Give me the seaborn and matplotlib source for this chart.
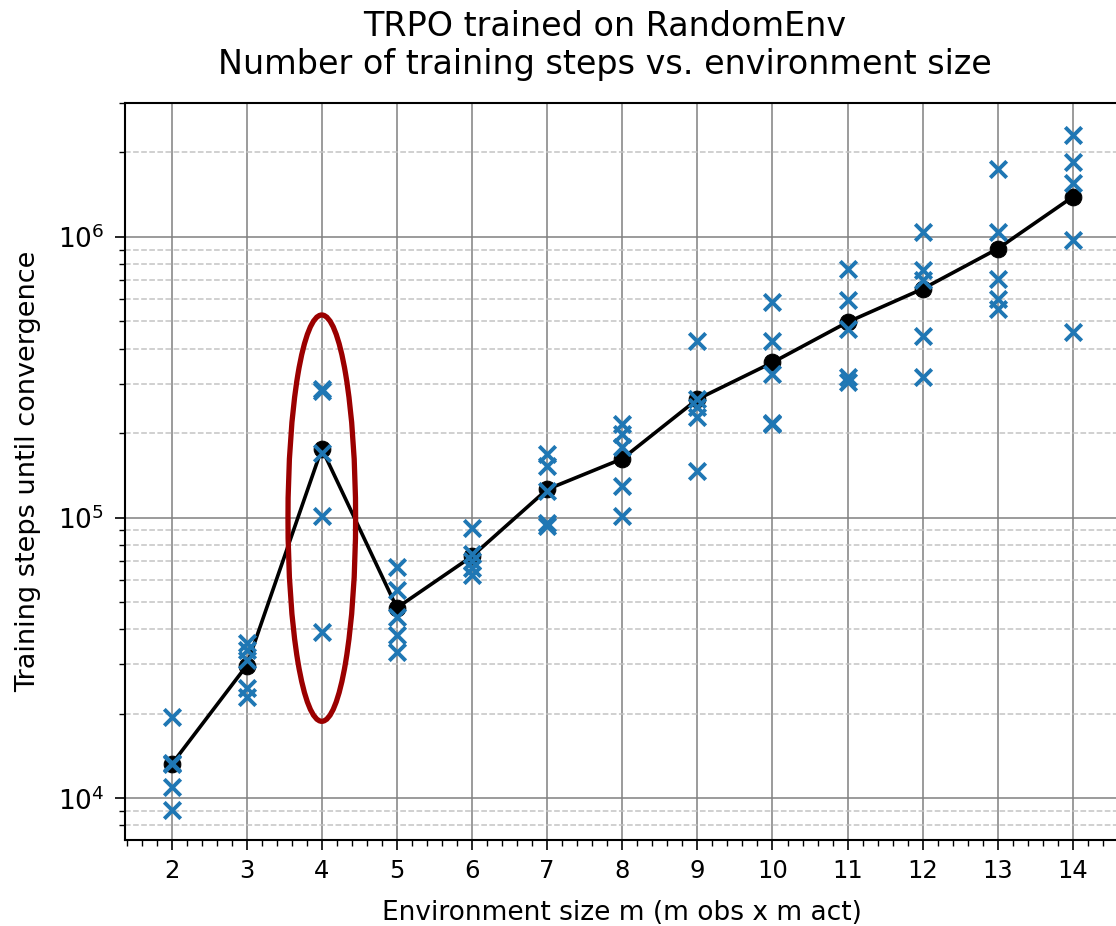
import numpy as np
import pandas as pd
import seaborn as sns
import matplotlib
matplotlib.use("Agg")
import matplotlib.pyplot as plt
from matplotlib.ticker import AutoMinorLocator, LogLocator
from matplotlib.patches import Ellipse

# ---- data ----
env_sizes = [2, 3, 4, 5, 6, 7, 8, 9, 10, 11, 12, 13, 14]
run_steps = [
    [19.4e3, 13.3e3, 13.2e3, 11.0e3, 9.1e3],
    [35.6e3, 33.7e3, 31.0e3, 24.8e3, 22.9e3],
    [288e3, 283e3, 170e3, 101e3, 39e3],
    [66.7e3, 55.3e3, 44.3e3, 38.1e3, 33.2e3],
    [92e3, 74e3, 70e3, 66e3, 62.5e3],
    [168e3, 153e3, 124e3, 96e3, 93e3],
    [216e3, 199e3, 178e3, 130e3, 101e3],
    [427e3, 265e3, 247e3, 228e3, 146e3],
    [586e3, 427e3, 325e3, 218e3, 216e3],
    [771e3, 594e3, 470e3, 316e3, 303e3],
    [1040e3, 760e3, 704e3, 445e3, 316e3],
    [1750e3, 1040e3, 710e3, 602e3, 554e3],
    [2310e3, 1850e3, 1550e3, 973e3, 457e3],
]
mean_steps = [13.2e3, 29.7e3, 176e3, 47.7e3, 72.8e3, 126e3, 162e3,
              264e3, 357e3, 497e3, 653e3, 908e3, 1390e3]

title_lines = ["TRPO trained on RandomEnv",
               "Number of training steps vs. environment size"]
x_label = "Environment size m (m obs x m act)"
y_label = "Training steps until convergence"

highlight_x_span = (3.55, 4.45)
highlight_y_span = (1.88e4, 5.27e5)

runs_df = pd.DataFrame({
    "m": np.repeat(env_sizes, [len(r) for r in run_steps]),
    "steps": np.concatenate(run_steps),
})
mean_df = pd.DataFrame({"m": env_sizes, "steps": mean_steps})

# ---- style ----
sns.set_style("ticks", {"text.color": "black", "axes.labelcolor": "black",
                        "xtick.color": "black", "ytick.color": "black",
                        "axes.edgecolor": "black"})
plt.rcParams["font.family"] = ["DejaVu Sans"]

W, H, DPI = 1116, 926, 100
fig = plt.figure(figsize=(W / DPI, H / DPI), dpi=DPI)
ax = fig.add_axes([125 / W, 1 - 840 / H, (1118 - 125) / W, (840 - 103) / H])

sns.lineplot(data=mean_df, x="m", y="steps", ax=ax, color="black",
             linewidth=2.6, marker="o", markersize=12,
             markeredgecolor="black", zorder=3)
sns.scatterplot(data=runs_df, x="m", y="steps", ax=ax, marker="x",
                color="#1f77b4", s=140, linewidth=2.8, zorder=4)

ax.set_yscale("log")
ax.set_xlim(1.38, 14.6)
ax.set_ylim(7.1e3, 3.0e6)

ax.set_xticks(env_sizes)
ax.xaxis.set_minor_locator(AutoMinorLocator(5))
ax.yaxis.set_minor_locator(LogLocator(base=10, subs=np.arange(2, 10)))

ax.grid(which="major", color="#808080", linewidth=1.1, linestyle="-")
ax.grid(which="minor", axis="y", color="#c4c4c4", linewidth=1.1,
        linestyle="--")
ax.grid(which="minor", axis="x", visible=False)
ax.set_axisbelow(True)

for s in ax.spines.values():
    s.set_linewidth(1.5)
    s.set_color("black")

ax.tick_params(which="major", direction="out", length=7, width=1.2,
               colors="black")
ax.tick_params(axis="x", which="major", labelsize=17.5, pad=7)
ax.tick_params(axis="y", which="major", labelsize=19, pad=8)
ax.tick_params(which="minor", direction="out", length=4, width=1.0)

ax.set_xlabel(x_label, fontsize=19, labelpad=12)
ax.set_ylabel(y_label, fontsize=19.5)
ax.yaxis.set_label_coords(-0.084, 0.5)
ax.set_title("\n".join(title_lines), fontsize=24, x=0.483, pad=21,
             color="black")

# highlight ellipse around m=4 (placed from data coordinates)
fig.canvas.draw()
to_axes = ax.transData + ax.transAxes.inverted()
(x0, y0) = to_axes.transform((highlight_x_span[0], highlight_y_span[0]))
(x1, y1) = to_axes.transform((highlight_x_span[1], highlight_y_span[1]))
ell = Ellipse(((x0 + x1) / 2, (y0 + y1) / 2), x1 - x0, y1 - y0,
              transform=ax.transAxes, fill=False, edgecolor="#9b0000",
              linewidth=3.8, zorder=5)
ax.add_patch(ell)

fig.savefig("out.png", dpi=DPI)
